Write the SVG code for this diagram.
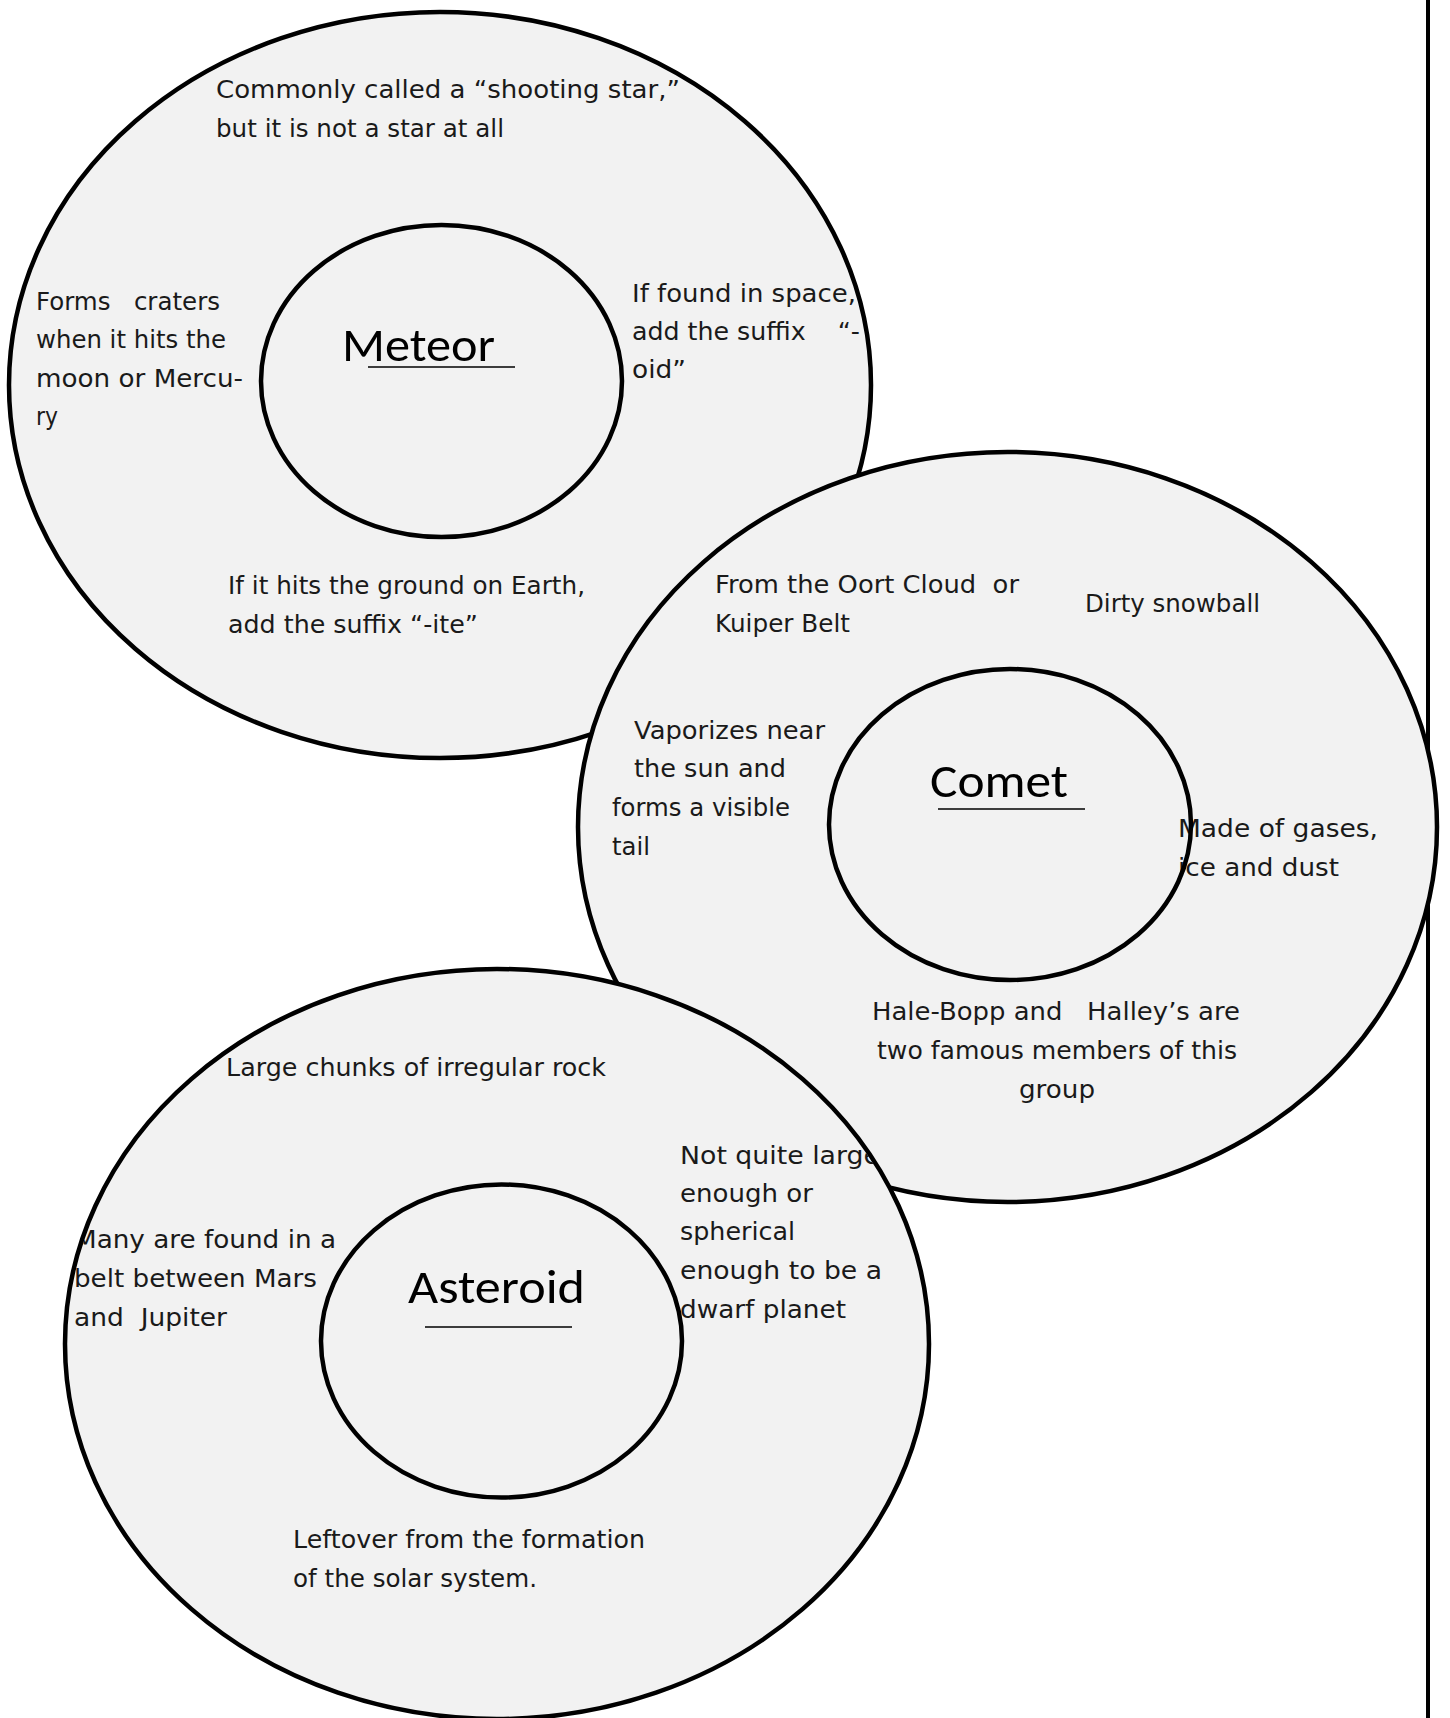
<svg xmlns="http://www.w3.org/2000/svg" width="1450" height="1718" viewBox="0 0 1450 1718">
<style>
  .bg { fill: #ffffff; }
  .outer { fill: #f2f2f2; stroke: #000000; stroke-width: 4.5; }
  .inner { fill: none; stroke: #000000; stroke-width: 4.5; }
  .t { font-family: "DejaVu Sans", "Liberation Sans", sans-serif; font-size: 25.5px; fill: #1a1a1a; white-space: pre; }
  .title { font-family: Carlito, Lato, "Liberation Sans", sans-serif; font-size: 48px; fill: #000000; }
  .ul { stroke: #000000; stroke-width: 1.5; }
  .rule { stroke: #000000; stroke-width: 4; }
</style>
<defs>
  <clipPath id="clipMeteor"><ellipse cx="440" cy="385" rx="429" ry="371"/></clipPath>
  <clipPath id="clipComet"><ellipse cx="1007.5" cy="827" rx="427.5" ry="373"/></clipPath>
  <clipPath id="clipAsteroid"><ellipse cx="497" cy="1344" rx="430" ry="373"/></clipPath>
</defs>
<rect class="bg" x="0" y="0" width="1450" height="1718"/>
<line id="page-rule" class="rule" x1="1428" y1="0" x2="1428" y2="1718"/>

<g id="meteor">
  <ellipse class="outer" cx="440" cy="385" rx="431" ry="373"/>
  <g clip-path="url(#clipMeteor)">
    <text class="t" x="216" y="98" textLength="464" lengthAdjust="spacingAndGlyphs">Commonly called a “shooting star,”</text>
    <text class="t" x="216" y="137" textLength="288" lengthAdjust="spacingAndGlyphs">but it is not a star at all</text>
    <text class="t" x="36" y="310" textLength="184" lengthAdjust="spacingAndGlyphs" xml:space="preserve">Forms   craters</text>
    <text class="t" x="36" y="348" textLength="190" lengthAdjust="spacingAndGlyphs">when it hits the</text>
    <text class="t" x="36" y="387" textLength="207" lengthAdjust="spacingAndGlyphs">moon or Mercu-</text>
    <text class="t" x="36" y="425" textLength="22" lengthAdjust="spacingAndGlyphs">ry</text>
    <text class="t" x="632" y="302" textLength="224" lengthAdjust="spacingAndGlyphs">If found in space,</text>
    <text class="t" x="632" y="340" textLength="228" lengthAdjust="spacingAndGlyphs" xml:space="preserve">add the suffix    “-</text>
    <text class="t" x="632" y="378" textLength="54" lengthAdjust="spacingAndGlyphs">oid”</text>
    <text class="t" x="228" y="594" textLength="357" lengthAdjust="spacingAndGlyphs">If it hits the ground on Earth,</text>
    <text class="t" x="228" y="633" textLength="250" lengthAdjust="spacingAndGlyphs">add the suffix “-ite”</text>
  </g>
  <ellipse class="inner" cx="441.5" cy="381" rx="180.5" ry="156"/>
  <text class="title" x="342" y="361" textLength="153" lengthAdjust="spacingAndGlyphs">Meteor</text>
  <line class="ul" x1="368" y1="367" x2="515" y2="367"/>
</g>

<g id="comet">
  <ellipse class="outer" cx="1007.5" cy="827" rx="429.5" ry="375"/>
  <g clip-path="url(#clipComet)">
    <text class="t" x="715" y="593" textLength="304" lengthAdjust="spacingAndGlyphs" xml:space="preserve">From the Oort Cloud  or</text>
    <text class="t" x="715" y="632" textLength="135" lengthAdjust="spacingAndGlyphs">Kuiper Belt</text>
    <text class="t" x="1085" y="612" textLength="175" lengthAdjust="spacingAndGlyphs">Dirty snowball</text>
    <text class="t" x="634" y="739" textLength="191" lengthAdjust="spacingAndGlyphs">Vaporizes near</text>
    <text class="t" x="634" y="777" textLength="152" lengthAdjust="spacingAndGlyphs">the sun and</text>
    <text class="t" x="612" y="816" textLength="178" lengthAdjust="spacingAndGlyphs">forms a visible</text>
    <text class="t" x="612" y="855" textLength="38" lengthAdjust="spacingAndGlyphs">tail</text>
    <text class="t" x="1178" y="837" textLength="200" lengthAdjust="spacingAndGlyphs">Made of gases,</text>
    <text class="t" x="1178" y="876" textLength="161" lengthAdjust="spacingAndGlyphs">ice and dust</text>
    <text class="t" x="872" y="1020" textLength="368" lengthAdjust="spacingAndGlyphs" xml:space="preserve">Hale-Bopp and   Halley’s are</text>
    <text class="t" x="877" y="1059" textLength="360" lengthAdjust="spacingAndGlyphs">two famous members of this</text>
    <text class="t" x="1019" y="1098" textLength="76" lengthAdjust="spacingAndGlyphs">group</text>
  </g>
  <ellipse class="inner" cx="1010" cy="824.5" rx="181" ry="155.5"/>
  <text class="title" x="930" y="797" textLength="138" lengthAdjust="spacingAndGlyphs">Comet</text>
  <line class="ul" x1="938" y1="809" x2="1085" y2="809"/>
</g>

<g id="asteroid">
  <ellipse class="outer" cx="497" cy="1344" rx="432" ry="375"/>
  <g clip-path="url(#clipAsteroid)">
    <text class="t" x="226" y="1076" textLength="380" lengthAdjust="spacingAndGlyphs">Large chunks of irregular rock</text>
    <text class="t" x="680" y="1164" textLength="200" lengthAdjust="spacingAndGlyphs">Not quite large</text>
    <text class="t" x="680" y="1202" textLength="133" lengthAdjust="spacingAndGlyphs">enough or</text>
    <text class="t" x="680" y="1240" textLength="115" lengthAdjust="spacingAndGlyphs">spherical</text>
    <text class="t" x="680" y="1279" textLength="202" lengthAdjust="spacingAndGlyphs">enough to be a</text>
    <text class="t" x="680" y="1318" textLength="166" lengthAdjust="spacingAndGlyphs">dwarf planet</text>
    <text class="t" x="74" y="1248" textLength="262" lengthAdjust="spacingAndGlyphs">Many are found in a</text>
    <text class="t" x="74" y="1287" textLength="243" lengthAdjust="spacingAndGlyphs">belt between Mars</text>
    <text class="t" x="74" y="1326" textLength="153" lengthAdjust="spacingAndGlyphs" xml:space="preserve">and  Jupiter</text>
    <text class="t" x="293" y="1548" textLength="352" lengthAdjust="spacingAndGlyphs">Leftover from the formation</text>
    <text class="t" x="293" y="1587" textLength="244" lengthAdjust="spacingAndGlyphs">of the solar system.</text>
  </g>
  <ellipse class="inner" cx="501.5" cy="1341" rx="180.5" ry="156.5"/>
  <text class="title" x="408" y="1303" textLength="177" lengthAdjust="spacingAndGlyphs">Asteroid</text>
  <line class="ul" x1="425" y1="1327" x2="572" y2="1327"/>
</g>

<g id="connectors"></g>
</svg>
